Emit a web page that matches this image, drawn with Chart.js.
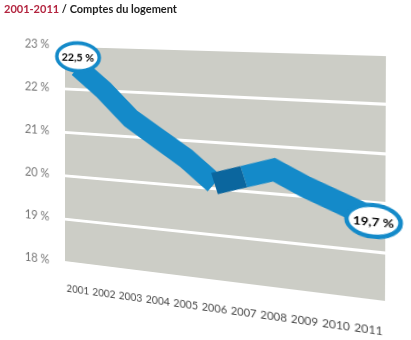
<!DOCTYPE html>
<html>
<head>
<meta charset="utf-8">
<script src="https://cdn.jsdelivr.net/npm/chart.js@4/dist/chart.umd.min.js"></script>
<style>
  html, body { margin:0; padding:0; background:#ffffff; width:411px; height:340px; overflow:hidden; }
  #wrap { position:relative; width:411px; height:340px; }
  #c { position:absolute; left:0; top:0; transform-origin:0 0; }
  #title { position:absolute; left:4px; top:2px; font-family:Lato, "Open Sans", sans-serif; font-size:11px; font-weight:700; color:#1e1e1e; z-index:2; white-space:nowrap; }
  #title .yr { color:#b3243f; }
</style>
</head>
<body>
<div id="wrap">
  <div id="title"><span class="yr">2001-2011</span> / Comptes du logement</div>
  <canvas id="c" width="411" height="340"></canvas>
</div>
<script>
// ---- data ----
const years = ['2001','2002','2003','2004','2005','2006','2007','2008','2009','2010','2011'];
const shares = [22.5, 22.0, 21.4, 21.0, 20.6, 20.1, 20.3, 20.5, 20.2, 19.95, 19.7];
const yTicks = [18, 19, 20, 21, 22, 23];
const calloutIndexes = [0, years.length - 1];

const BLUE = '#148ac9';
const BLUE_DARK = '#0b669e';

const plotBg = {
  id: 'plotBg',
  beforeDraw(chart) {
    const a = chart.chartArea, ctx = chart.ctx;
    ctx.save();
    ctx.fillStyle = '#cccdc6';
    ctx.fillRect(a.left, a.top, a.right - a.left, a.bottom - a.top);
    ctx.restore();
  }
};

const callouts = {
  id: 'callouts',
  afterDatasetsDraw(chart) {
    const ctx = chart.ctx;
    const meta = chart.getDatasetMeta(0);
    calloutIndexes.forEach((i, k) => {
      const p = meta.data[i];
      const x = p.x + (k === 0 ? 0 : 4);
      const y = p.y + (k === 0 ? -11 : 4);
      ctx.save();
      ctx.beginPath();
      ctx.ellipse(x, y, 24, 15, 0, 0, Math.PI * 2);
      ctx.fillStyle = '#ffffff';
      ctx.fill();
      ctx.lineWidth = 4;
      ctx.strokeStyle = BLUE;
      ctx.stroke();
      ctx.fillStyle = '#000000';
      ctx.font = 'bold 12px Lato, "Open Sans", sans-serif';
      ctx.textAlign = 'center';
      ctx.textBaseline = 'middle';
      ctx.fillText(shares[i].toFixed(1).replace('.', ',') + ' %', x, y + 1);
      ctx.restore();
    });
  }
};

const chart = new Chart(document.getElementById('c'), {
  type: 'line',
  data: {
    labels: years,
    datasets: [{
      data: shares,
      borderColor: BLUE,
      borderWidth: 22,
      borderJoinStyle: 'miter',
      borderCapStyle: 'butt',
      pointRadius: 0,
      tension: 0,
      fill: false,
      segment: {
        borderColor: c => (c.p0DataIndex === 5 ? BLUE_DARK : BLUE)
      }
    }]
  },
  options: {
    responsive: false,
    animation: false,
    events: [],
    layout: { padding: { top: 45, right: 25, left: 0, bottom: 0 } },
    plugins: { legend: { display: false }, tooltip: { enabled: false }, title: { display: false } },
    scales: {
      x: {
        offset: true,
        grid: { display: false },
        border: { display: false },
        ticks: { color: '#4a4a4a', font: { family: 'Lato, "Open Sans", sans-serif', size: 11 }, padding: 14, maxRotation: 0, autoSkip: false },
        afterFit(s) { s.height = 60; }
      },
      y: {
        min: 18, max: 23,
        afterBuildTicks(s) { s.ticks = yTicks.map(v => ({ value: v })); },
        grid: { color: '#ffffff', lineWidth: 3, drawTicks: false },
        border: { display: false },
        ticks: { color: '#767676', font: { family: 'Lato, "Open Sans", sans-serif', size: 13 }, padding: 18, callback: v => v + ' %' },
        afterFit(s) { s.width = 65; }
      }
    }
  },
  plugins: [plotBg, callouts]
});

// perspective: map the flat plot area onto the slanted panel of the original
(function () {
  const a = chart.chartArea;
  const q = [[65, 45], [386, 54], [385, 302], [65, 262]]; // TL, TR, BR, BL
  const [x0, y0] = q[0], [x1, y1] = q[1], [x2, y2] = q[2], [x3, y3] = q[3];
  const dx1 = x1 - x2, dx2 = x3 - x2, dx3 = x0 - x1 + x2 - x3;
  const dy1 = y1 - y2, dy2 = y3 - y2, dy3 = y0 - y1 + y2 - y3;
  const den = dx1 * dy2 - dx2 * dy1;
  const g = (dx3 * dy2 - dx2 * dy3) / den;
  const h = (dx1 * dy3 - dx3 * dy1) / den;
  const a1 = x1 - x0 + g * x1, b1 = x3 - x0 + h * x3, c1 = x0;
  const d1 = y1 - y0 + g * y1, e1 = y3 - y0 + h * y3, f1 = y0;
  const L = a.left, T = a.top, W = a.right - a.left, H = a.bottom - a.top;
  const A = a1 / W, B = b1 / H, C = c1 - a1 * L / W - b1 * T / H;
  const D = d1 / W, E = e1 / H, F = f1 - d1 * L / W - e1 * T / H;
  const G = g / W, HH = h / H, I = 1 - g * L / W - h * T / H;
  document.getElementById('c').style.transform =
    `matrix3d(${A},${D},0,${G},${B},${E},0,${HH},0,0,1,0,${C},${F},0,${I})`;
})();
</script>
</body>
</html>
